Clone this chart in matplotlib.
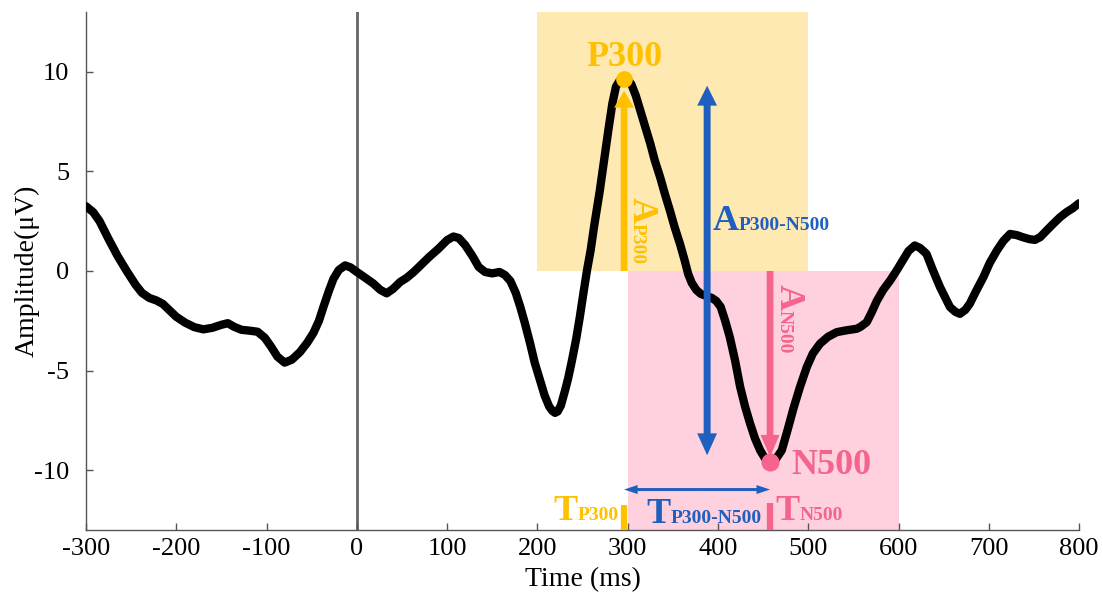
import matplotlib
matplotlib.use('Agg')
import matplotlib.pyplot as plt
from matplotlib.patches import Rectangle

plt.rcParams['font.family'] = ['Liberation Serif', 'DejaVu Serif']
plt.rcParams['axes.unicode_minus'] = False

# 平均ERP波形
time_ms = [
    -300, -292, -285, -275, -265, -255, -245, -238, -230, -222, -215, -208,
    -200, -190, -180, -170, -160, -150, -143, -136, -128, -118, -110, -102,
    -95, -88, -80, -72, -63, -55, -48, -42, -37, -31, -26, -20, -13, -7,
    0, 8, 18, 26, 33, 40, 48, 55, 63, 72, 80, 90, 100, 107, 113, 120,
    128, 135, 142, 150, 158, 164, 170, 176, 181, 186, 192, 197, 203, 208,
    213, 216.5, 219.5, 222.5, 226, 230, 234, 238, 243, 247, 251, 255, 259, 263, 269, 274,
    279, 283, 287, 291, 296, 300, 304, 309, 314, 319, 325, 330, 336, 341,
    347, 352, 358, 363, 367, 371, 376, 381, 387, 393, 398, 403, 408, 413,
    419, 424.5, 430, 435.6, 441, 446.7, 452, 457.7, 464, 470.7, 477, 483.6,
    491, 498.4, 505, 513, 522, 531.6, 542, 553.7, 558, 564.8, 570, 576,
    583, 590.7, 598, 605, 611, 618, 624, 631, 638, 646, 652, 657, 663, 668,
    674, 679, 686, 694, 701, 709, 716, 723.6, 731, 738, 745, 751, 757, 764,
    771, 779, 786, 793, 800,
]
amplitude_uv = [
    3.25, 2.95, 2.5, 1.6, 0.75, 0.0, -0.7, -1.1, -1.35, -1.48, -1.65, -1.95,
    -2.3, -2.6, -2.82, -2.93, -2.85, -2.7, -2.62, -2.8, -2.95, -3.0, -3.05, -3.35,
    -3.8, -4.3, -4.6, -4.45, -4.07, -3.6, -3.1, -2.5, -1.8, -1.0, -0.4, 0.05, 0.28, 0.18,
    -0.05, -0.3, -0.62, -0.95, -1.12, -0.9, -0.55, -0.35, -0.05, 0.35, 0.7, 1.1, 1.55, 1.73, 1.65, 1.3,
    0.75, 0.2, -0.05, -0.12, -0.05, -0.2, -0.5, -1.1, -1.8, -2.6, -3.65, -4.6, -5.5, -6.25,
    -6.8, -7.02, -7.12, -7.05, -6.75, -6.1, -5.4, -4.55, -3.4, -2.3, -1.1, 0.05, 1.05, 2.3, 4.0, 5.6,
    7.2, 8.4, 9.25, 9.55, 9.65, 9.6, 9.38, 8.8, 8.05, 7.3, 6.4, 5.55, 4.7, 3.9,
    3.0, 2.2, 1.35, 0.55, -0.15, -0.6, -0.95, -1.15, -1.25, -1.35, -1.5, -1.8, -2.5, -3.3,
    -4.5, -5.8, -6.8, -7.66, -8.4, -9.0, -9.4, -9.6, -9.45, -9.0, -8.0, -6.9,
    -5.8, -4.82, -4.15, -3.65, -3.3, -3.07, -2.98, -2.9, -2.8, -2.57, -2.1, -1.5,
    -0.95, -0.48, 0.03, 0.55, 1.0, 1.28, 1.15, 0.86, 0.05, -0.81, -1.35, -1.81, -2.05, -2.15,
    -1.95, -1.64, -1.0, -0.31, 0.4, 1.03, 1.5, 1.86, 1.8, 1.69, 1.6, 1.56, 1.7, 2.03,
    2.35, 2.7, 2.95, 3.15, 3.4,
]

# 成分のピーク
p300_time, p300_amp = 296, 9.65
n500_time, n500_amp = 457.7, -9.6

# 探索窓
p300_window = (200, 500)
n500_window = (300, 600)

x_ticks = list(range(-300, 801, 100))
y_ticks = [-10, -5, 0, 5, 10]

YELLOW = '#FFC000'
BLUE = '#1F5FBF'
PINK = '#F5648C'

fig = plt.figure(figsize=(11.03, 6.0), dpi=100)
ax = fig.add_axes([0.078, 0.1167, 0.9003, 0.8633])
ax.set_xlim(-300, 800)
ax.set_ylim(-13, 13)

# 窓
ax.add_patch(Rectangle((p300_window[0], 0), p300_window[1] - p300_window[0], 13,
                       facecolor='#FFE9B3', edgecolor='none', zorder=0))
ax.add_patch(Rectangle((n500_window[0], -13), n500_window[1] - n500_window[0], 13,
                       facecolor='#FFD0DD', edgecolor='none', zorder=0))

ax.axvline(0, color='#666666', lw=2, zorder=1)
ax.plot(time_ms, amplitude_uv, color='black', lw=6,
        solid_joinstyle='round', solid_capstyle='round', zorder=3)

# 振幅の矢印
ax.arrow(p300_time, 0, 0, p300_amp - 0.6, width=7.4, head_width=22, head_length=0.85,
         length_includes_head=True, lw=0, color=YELLOW, zorder=4)
ax.arrow(n500_time, 0, 0, n500_amp + 0.27, width=7.4, head_width=21, head_length=1.1,
         length_includes_head=True, lw=0, color=PINK, zorder=4)
amp_x = 388
ax.arrow(amp_x, 0, 0, p300_amp - 0.35, width=7.7, head_width=22, head_length=1.0,
         length_includes_head=True, lw=0, color=BLUE, zorder=4)
ax.arrow(amp_x, 0, 0, n500_amp + 0.35, width=7.7, head_width=22, head_length=1.1,
         length_includes_head=True, lw=0, color=BLUE, zorder=4)

# 潜時の矢印
lat_y = -10.97
mid = (p300_time + n500_time) / 2
ax.arrow(mid, lat_y, p300_time - mid, 0, width=0.15, head_width=0.45, head_length=15,
         length_includes_head=True, lw=0, color=BLUE, zorder=4)
ax.arrow(mid, lat_y, n500_time - mid, 0, width=0.15, head_width=0.45, head_length=15,
         length_includes_head=True, lw=0, color=BLUE, zorder=4)
ax.plot([p300_time, p300_time], [-13, -11.75], color=YELLOW, lw=4.5,
        solid_capstyle='butt', zorder=4, clip_on=False)
ax.plot([n500_time, n500_time], [-13, -11.65], color=PINK, lw=4.5,
        solid_capstyle='butt', zorder=4, clip_on=False)

# ピーク点
ax.plot(p300_time, p300_amp, 'o', ms=11, color=YELLOW, zorder=6)
ax.plot(n500_time, n500_amp, 'o', ms=12, color=PINK, zorder=6)

BIG = 26
SUB = 14
ax.text(p300_time, 10.3, 'P300', color=YELLOW, fontsize=BIG, fontweight='bold',
        ha='center', va='baseline', zorder=7)
ax.text(481, -10.17, 'N500', color=PINK, fontsize=BIG, fontweight='bold',
        ha='left', va='baseline', zorder=7)


def label_h(x, y, big, sub, color):
    t = ax.text(x, y, big, color=color, fontsize=BIG, fontweight='bold',
                ha='left', va='baseline', zorder=7)
    ax.annotate(sub, xy=(1, y), xycoords=(t, 'data'), color=color, fontsize=SUB,
                fontweight='bold', ha='left', va='baseline', zorder=7)


def label_v(x, y, big, sub, color):
    t = ax.text(x, y, big, color=color, fontsize=BIG, fontweight='bold', rotation=-90,
                rotation_mode='anchor', ha='left', va='baseline', zorder=7)
    ax.annotate(sub, xy=(x, 0), xycoords=('data', t), color=color, fontsize=SUB,
                fontweight='bold', rotation=-90, rotation_mode='anchor',
                ha='left', va='baseline', zorder=7)


label_h(393.8, 2.07, 'A', 'P300-N500', BLUE)
label_v(306, 3.73, 'A', 'P300', YELLOW)
label_v(468.8, -0.63, 'A', 'N500', PINK)
label_h(320.4, -12.67, 'T', 'P300-N500', BLUE)
label_h(217.3, -12.5, 'T', 'P300', YELLOW)
label_h(463.3, -12.5, 'T', 'N500', PINK)

ax.set_xticks(x_ticks)
ax.set_yticks(y_ticks)
ax.tick_params(direction='in', length=5, width=1, color='#555555', labelsize=19)
ax.tick_params(axis='x', pad=6)
ax.tick_params(axis='y', pad=12)
for s in ['top', 'right']:
    ax.spines[s].set_visible(False)
for s in ['left', 'bottom']:
    ax.spines[s].set_color('#555555')
    ax.spines[s].set_linewidth(1)

ax.set_xlabel('Time (ms)', fontsize=20, labelpad=5)
ax.set_ylabel('Amplitude(μV)', fontsize=20, labelpad=-4)

fig.savefig('out.png', dpi=100)
